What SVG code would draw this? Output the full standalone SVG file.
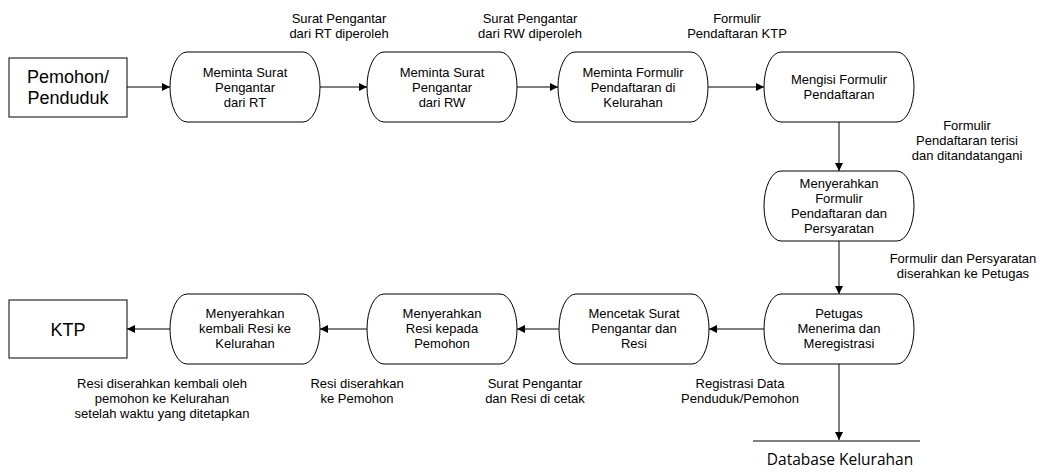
<svg xmlns="http://www.w3.org/2000/svg" width="1040" height="472" viewBox="0 0 1040 472">
<style>
.box{fill:#fff;stroke:#000;stroke-width:1}
.proc{fill:#fff;stroke:#000;stroke-width:1}
.t{font-family:"Liberation Sans",Arial,sans-serif;font-size:13px;fill:#000;text-anchor:middle}
.big{font-family:"Liberation Sans",Arial,sans-serif;font-size:18px;fill:#000;text-anchor:middle}
.db{font-family:"Open Sans","Noto Sans",sans-serif;font-size:15.5px;fill:#000;text-anchor:middle}
.c{stroke:#000;stroke-width:1;fill:none;marker-end:url(#ah)}
</style>
<defs>
<marker id="ah" markerWidth="8" markerHeight="8" refX="8" refY="4" orient="auto" markerUnits="userSpaceOnUse">
<path d="M0,0 L8,4 L0,8 z" fill="#000"/>
</marker>
</defs>
<rect width="1040" height="472" fill="#fff"/>

<g id="connectors">
<line class="c" x1="127" y1="87" x2="170" y2="87"/>
<line class="c" x1="320" y1="87" x2="367" y2="87"/>
<line class="c" x1="517" y1="87" x2="558" y2="87"/>
<line class="c" x1="708" y1="87" x2="764" y2="87"/>
<line class="c" x1="839" y1="122" x2="839" y2="171"/>
<line class="c" x1="839" y1="241" x2="839" y2="294"/>
<line class="c" x1="764" y1="329" x2="709" y2="329"/>
<line class="c" x1="559" y1="329" x2="517" y2="329"/>
<line class="c" x1="367" y1="329" x2="320" y2="329"/>
<line class="c" x1="170" y1="329" x2="127" y2="329"/>
<line class="c" x1="839" y1="364" x2="839" y2="440"/>
</g>

<g id="labels">
<text class="t" x="339" y="23">Surat Pengantar</text>
<text class="t" x="339" y="38">dari RT diperoleh</text>
<text class="t" x="530" y="23">Surat Pengantar</text>
<text class="t" x="530" y="38">dari RW diperoleh</text>
<text class="t" x="737" y="23">Formulir</text>
<text class="t" x="737" y="38">Pendaftaran KTP</text>
<text class="t" x="967" y="130">Formulir</text>
<text class="t" x="967" y="145">Pendaftaran terisi</text>
<text class="t" x="967" y="160">dan ditandatangani</text>
<text class="t" x="963" y="263">Formulir dan Persyaratan</text>
<text class="t" x="963" y="278">diserahkan ke Petugas</text>
<text class="t" x="740" y="388">Registrasi Data</text>
<text class="t" x="740" y="403">Penduduk/Pemohon</text>
<text class="t" x="535" y="388">Surat Pengantar</text>
<text class="t" x="535" y="403">dan Resi di cetak</text>
<text class="t" x="357" y="388">Resi diserahkan</text>
<text class="t" x="357" y="403">ke Pemohon</text>
<text class="t" x="162" y="388">Resi diserahkan kembali oleh</text>
<text class="t" x="162" y="403">pemohon ke Kelurahan</text>
<text class="t" x="162" y="418">setelah waktu yang ditetapkan</text>
</g>

<g id="pemohon">
<rect class="box" x="9" y="58" width="118" height="59"/>
<text class="big" x="68" y="83">Pemohon/</text>
<text class="big" x="68" y="104">Penduduk</text>
</g>

<g id="n1">
<rect class="proc" x="170" y="52" width="150" height="70" rx="17" ry="35"/>
<text class="t" x="245" y="77">Meminta Surat</text>
<text class="t" x="245" y="92">Pengantar</text>
<text class="t" x="245" y="107">dari RT</text>
</g>

<g id="n2">
<rect class="proc" x="367" y="52" width="150" height="70" rx="17" ry="35"/>
<text class="t" x="442" y="77">Meminta Surat</text>
<text class="t" x="442" y="92">Pengantar</text>
<text class="t" x="442" y="107">dari RW</text>
</g>

<g id="n3">
<rect class="proc" x="558" y="52" width="150" height="70" rx="17" ry="35"/>
<text class="t" x="633" y="77">Meminta Formulir</text>
<text class="t" x="633" y="92">Pendaftaran di</text>
<text class="t" x="633" y="107">Kelurahan</text>
</g>

<g id="n4">
<rect class="proc" x="764" y="52" width="150" height="70" rx="17" ry="35"/>
<text class="t" x="839" y="84">Mengisi Formulir</text>
<text class="t" x="839" y="99">Pendaftaran</text>
</g>

<g id="n5">
<rect class="proc" x="764" y="171" width="150" height="70" rx="17" ry="35"/>
<text class="t" x="839" y="188">Menyerahkan</text>
<text class="t" x="839" y="203">Formulir</text>
<text class="t" x="839" y="218">Pendaftaran dan</text>
<text class="t" x="839" y="233">Persyaratan</text>
</g>

<g id="n6">
<rect class="proc" x="764" y="294" width="150" height="70" rx="17" ry="35"/>
<text class="t" x="839" y="318">Petugas</text>
<text class="t" x="839" y="333">Menerima dan</text>
<text class="t" x="839" y="348">Meregistrasi</text>
</g>

<g id="n7">
<rect class="proc" x="559" y="294" width="150" height="70" rx="17" ry="35"/>
<text class="t" x="634" y="318">Mencetak Surat</text>
<text class="t" x="634" y="333">Pengantar dan</text>
<text class="t" x="634" y="348">Resi</text>
</g>

<g id="n8">
<rect class="proc" x="367" y="294" width="150" height="70" rx="17" ry="35"/>
<text class="t" x="442" y="318">Menyerahkan</text>
<text class="t" x="442" y="333">Resi kepada</text>
<text class="t" x="442" y="348">Pemohon</text>
</g>

<g id="n9">
<rect class="proc" x="170" y="294" width="150" height="70" rx="17" ry="35"/>
<text class="t" x="245" y="318">Menyerahkan</text>
<text class="t" x="245" y="333">kembali Resi ke</text>
<text class="t" x="245" y="348">Kelurahan</text>
</g>

<g id="ktp">
<rect class="box" x="9" y="300" width="118" height="58"/>
<text class="big" x="68" y="336">KTP</text>
</g>

<g id="database">
<line x1="753" y1="441" x2="920" y2="441" stroke="#000" stroke-width="1"/>
<text class="db" x="840" y="465">Database Kelurahan</text>
</g>
</svg>
